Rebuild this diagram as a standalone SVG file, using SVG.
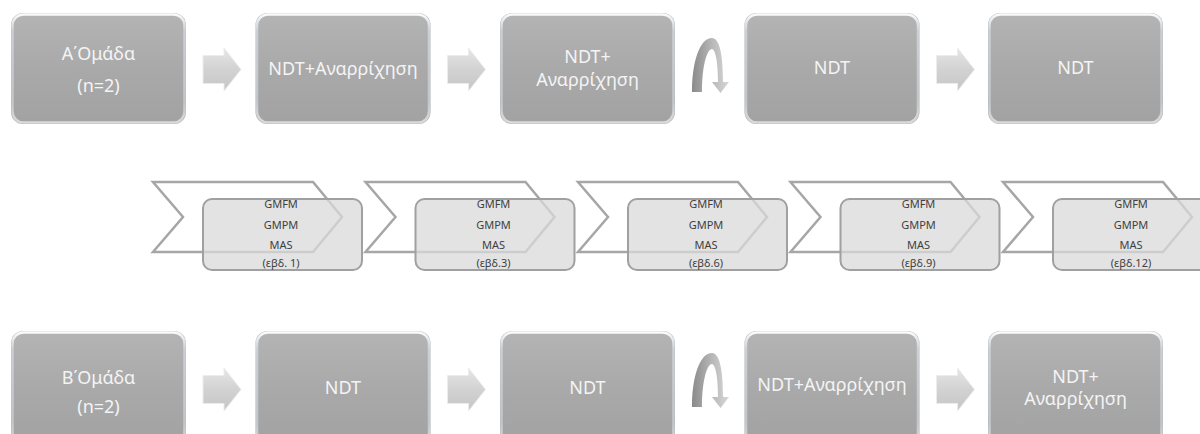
<svg xmlns="http://www.w3.org/2000/svg" width="1200" height="434" viewBox="0 0 1200 434">
<defs>
<linearGradient id="boxFill" x1="0" y1="0" x2="0" y2="1">
<stop offset="0" stop-color="#b4b4b4"/>
<stop offset="0.5" stop-color="#a9a9a9"/>
<stop offset="1" stop-color="#a2a2a2"/>
</linearGradient>
<linearGradient id="rim" x1="0" y1="0" x2="0" y2="1">
<stop offset="0" stop-color="#ffffff" stop-opacity="0.95"/>
<stop offset="0.15" stop-color="#e8f0f8" stop-opacity="0.5"/>
<stop offset="0.8" stop-color="#e8f0f8" stop-opacity="0.45"/>
<stop offset="1" stop-color="#ffffff" stop-opacity="0.6"/>
</linearGradient>
<linearGradient id="arrowFill" x1="0" y1="0" x2="0" y2="1">
<stop offset="0" stop-color="#e6e6e6"/>
<stop offset="0.5" stop-color="#d2d2d2"/>
<stop offset="1" stop-color="#c6c6c6"/>
</linearGradient>
<linearGradient id="curveFill" x1="0" y1="0" x2="1" y2="0">
<stop offset="0" stop-color="#8a8a8a"/>
<stop offset="0.55" stop-color="#b8b8b8"/>
<stop offset="1" stop-color="#d8d8d8"/>
</linearGradient>
<path id="blockArrow" d="M0,-14 L21,-14 L21,-21.5 L38,0 L21,21.5 L21,14 L0,14 Z"/>
<path id="curvedArrow" d="M692,54 C692,26 699,0 712,0 C719,0 723,14 723,44 L729,44 L720.5,55 L712,44 L718,44 C718,22 715,11 712,11 C707,11 702,28 702,54 Z"/>
<path id="chev" d="M0,0 L160,0 L189,35 L160,70 L0,70 L30,35 Z"/>
</defs>
<style>
.box{fill:url(#boxFill);}
.rim{fill:none;stroke:url(#rim);stroke-width:2.5;}
.big{font-family:"Noto Sans","Open Sans",sans-serif;font-size:18px;fill:#f4f4f4;text-anchor:middle;}
.small{font-family:"Noto Sans","Open Sans",sans-serif;font-size:11px;fill:#404040;text-anchor:middle;}
.chev{fill:#ffffff;stroke:#a6a6a6;stroke-width:2.5;stroke-linejoin:miter;}
.mrect{fill:#d9d9d9;fill-opacity:0.75;stroke:#a0a0a0;stroke-width:2;}
.ba{fill:url(#arrowFill);stroke:#ececec;stroke-width:1;}
.ca{fill:url(#curveFill);}
</style>
<rect width="1200" height="434" fill="#ffffff"/>

<g id="connectors">
<use href="#blockArrow" class="ba" x="203" y="69.5"/>
<use href="#blockArrow" class="ba" x="447.5" y="69.5"/>
<use href="#blockArrow" class="ba" x="936.5" y="69.5"/>
<use href="#curvedArrow" class="ca" x="0" y="38"/>
<use href="#blockArrow" class="ba" x="203" y="389.5"/>
<use href="#blockArrow" class="ba" x="447.5" y="389.5"/>
<use href="#blockArrow" class="ba" x="936.5" y="389.5"/>
<use href="#curvedArrow" class="ca" x="0" y="353"/>
</g>

<g id="a1"><rect class="box" x="11" y="13" width="175" height="111" rx="12"/><rect class="rim" x="12.5" y="14.5" width="172" height="108" rx="11"/>
<text class="big" x="98.5" y="60">Α΄Ομάδα</text><text class="big" x="98.5" y="92">(n=2)</text></g>
<g id="a2"><rect class="box" x="255.5" y="13" width="175" height="111" rx="12"/><rect class="rim" x="257" y="14.5" width="172" height="108" rx="11"/>
<text class="big" x="343" y="75">NDT+Αναρρίχηση</text></g>
<g id="a3"><rect class="box" x="500" y="13" width="175" height="111" rx="12"/><rect class="rim" x="501.5" y="14.5" width="172" height="108" rx="11"/>
<text class="big" x="587.5" y="63">NDT+</text><text class="big" x="587.5" y="86">Αναρρίχηση</text></g>
<g id="a4"><rect class="box" x="744.5" y="13" width="175" height="111" rx="12"/><rect class="rim" x="746" y="14.5" width="172" height="108" rx="11"/>
<text class="big" x="832" y="74">NDT</text></g>
<g id="a5"><rect class="box" x="988" y="13" width="175" height="111" rx="12"/><rect class="rim" x="989.5" y="14.5" width="172" height="108" rx="11"/>
<text class="big" x="1075.5" y="74">NDT</text></g>

<g id="m1"><use href="#chev" class="chev" x="153" y="182"/><rect class="mrect" x="203" y="199" width="159" height="71" rx="9"/>
<text class="small" x="281" y="208">GMFM</text><text class="small" x="281" y="229">GMPM</text><text class="small" x="281" y="249">MAS</text><text class="small" x="281" y="267">(εβδ. 1)</text></g>
<g id="m2"><use href="#chev" class="chev" x="365.5" y="182"/><rect class="mrect" x="415.5" y="199" width="159" height="71" rx="9"/>
<text class="small" x="493.5" y="208">GMFM</text><text class="small" x="493.5" y="229">GMPM</text><text class="small" x="493.5" y="249">MAS</text><text class="small" x="493.5" y="267">(εβδ.3)</text></g>
<g id="m3"><use href="#chev" class="chev" x="578" y="182"/><rect class="mrect" x="628" y="199" width="159" height="71" rx="9"/>
<text class="small" x="706" y="208">GMFM</text><text class="small" x="706" y="229">GMPM</text><text class="small" x="706" y="249">MAS</text><text class="small" x="706" y="267">(εβδ.6)</text></g>
<g id="m4"><use href="#chev" class="chev" x="790.5" y="182"/><rect class="mrect" x="840.5" y="199" width="159" height="71" rx="9"/>
<text class="small" x="918.5" y="208">GMFM</text><text class="small" x="918.5" y="229">GMPM</text><text class="small" x="918.5" y="249">MAS</text><text class="small" x="918.5" y="267">(εβδ.9)</text></g>
<g id="m5"><use href="#chev" class="chev" x="1003" y="182"/><rect class="mrect" x="1053" y="199" width="159" height="71" rx="9"/>
<text class="small" x="1131" y="208">GMFM</text><text class="small" x="1131" y="229">GMPM</text><text class="small" x="1131" y="249">MAS</text><text class="small" x="1131" y="267">(εβδ.12)</text></g>

<g id="b1"><rect class="box" x="11" y="331" width="175" height="115" rx="12"/><rect class="rim" x="12.5" y="332.5" width="172" height="112" rx="11"/>
<text class="big" x="98.5" y="384">Β΄Ομάδα</text><text class="big" x="98.5" y="413">(n=2)</text></g>
<g id="b2"><rect class="box" x="255.5" y="331" width="175" height="115" rx="12"/><rect class="rim" x="257" y="332.5" width="172" height="112" rx="11"/>
<text class="big" x="343" y="394">NDT</text></g>
<g id="b3"><rect class="box" x="500" y="331" width="175" height="115" rx="12"/><rect class="rim" x="501.5" y="332.5" width="172" height="112" rx="11"/>
<text class="big" x="587.5" y="394">NDT</text></g>
<g id="b4"><rect class="box" x="744.5" y="331" width="175" height="115" rx="12"/><rect class="rim" x="746" y="332.5" width="172" height="112" rx="11"/>
<text class="big" x="832" y="391">NDT+Αναρρίχηση</text></g>
<g id="b5"><rect class="box" x="988" y="331" width="175" height="115" rx="12"/><rect class="rim" x="989.5" y="332.5" width="172" height="112" rx="11"/>
<text class="big" x="1075.5" y="383">NDT+</text><text class="big" x="1075.5" y="405">Αναρρίχηση</text></g>
</svg>
